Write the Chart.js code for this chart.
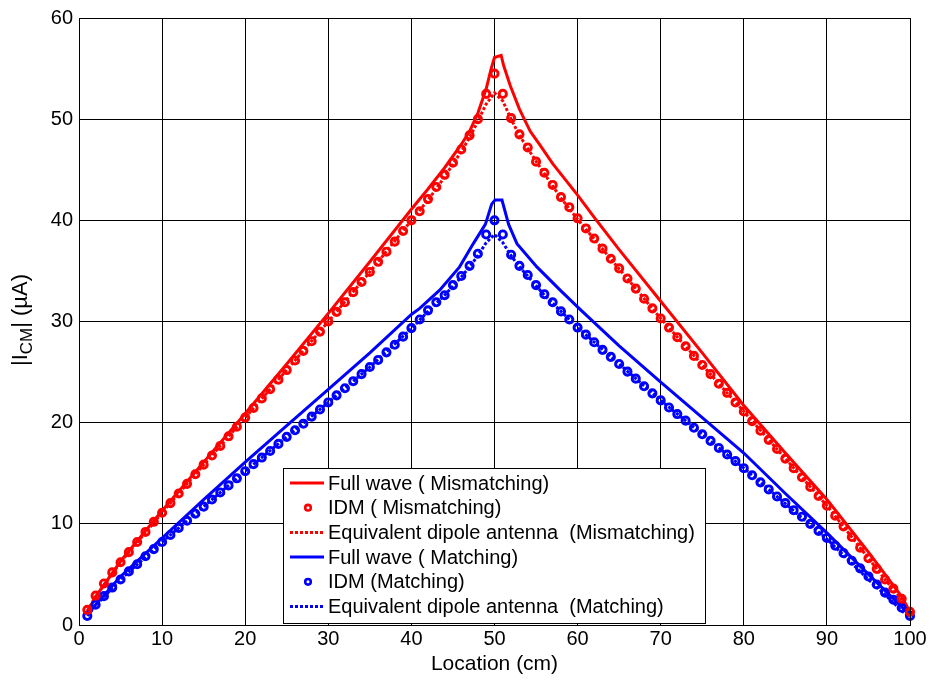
<!DOCTYPE html>
<html>
<head>
<meta charset="utf-8">
<script src="https://cdn.jsdelivr.net/npm/chart.js@4.4.1/dist/chart.umd.min.js"></script>
<style>
  body { margin: 0; background: #fff; }
  canvas { display: block; }
</style>
</head>
<body>
<canvas id="chart" width="932" height="681"></canvas>
<script>
// IDM samples, one every cm
let idmLoc = Array.from({ length: 100 }, (_, i) => i + 1);

let idmMismatch = [
  1.5, 2.9, 4.1, 5.2, 6.2, 7.2, 8.2, 9.2, 10.2, 11.1,
  12.05, 13.0, 13.95, 14.9, 15.85, 16.75, 17.7, 18.65, 19.6, 20.5,
  21.45, 22.4, 23.3, 24.25, 25.2, 26.15, 27.1, 28.05, 29.0, 30.0,
  30.95, 31.9, 32.9, 33.9, 34.9, 35.9, 36.9, 37.9, 38.95, 40.0,
  40.9, 42.1, 43.3, 44.5, 45.7, 47.0, 48.4, 50.0, 52.5, 54.5,
  52.5, 50.1, 48.5, 47.2, 45.8, 44.7, 43.5, 42.3, 41.3, 40.2,
  39.2, 38.2, 37.2, 36.2, 35.25, 34.25, 33.25, 32.25, 31.3, 30.3,
  29.4, 28.45, 27.55, 26.6, 25.7, 24.8, 23.85, 22.95, 22.0, 21.1,
  20.15, 19.2, 18.3, 17.4, 16.45, 15.5, 14.6, 13.65, 12.75, 11.8,
  10.8, 9.75, 8.7, 7.65, 6.6, 5.55, 4.5, 3.6, 2.6, 1.3
];

let idmMatch = [
  0.9, 2.0, 2.85, 3.7, 4.5, 5.3, 6.0, 6.8, 7.5, 8.2,
  8.9, 9.6, 10.3, 11.0, 11.7, 12.4, 13.1, 13.8, 14.5, 15.2,
  15.9, 16.55, 17.2, 17.9, 18.6, 19.25, 19.9, 20.6, 21.3, 22.0,
  22.7, 23.4, 24.1, 24.8, 25.5, 26.2, 26.95, 27.7, 28.5, 29.35,
  30.2, 31.1, 31.9, 32.6, 33.6, 34.5, 35.5, 36.7, 38.6, 40.0,
  38.6, 36.6, 35.5, 34.6, 33.6, 32.7, 31.9, 31.0, 30.2, 29.4,
  28.7, 27.95, 27.2, 26.5, 25.8, 25.05, 24.35, 23.6, 22.9, 22.2,
  21.5, 20.85, 20.2, 19.5, 18.85, 18.2, 17.5, 16.85, 16.2, 15.5,
  14.8, 14.1, 13.4, 12.7, 12.05, 11.35, 10.7, 10.0, 9.3, 8.6,
  7.85, 7.1, 6.35, 5.6, 4.8, 4.0, 3.2, 2.5, 1.7, 0.9
];

// full wave
let fwMisLoc = [1, 2, 5, 10, 15, 20, 25, 30, 35, 40, 42, 44, 46, 47, 48, 49, 49.6, 50, 50.8, 51.1, 51.9, 53, 54.3, 55.5, 57, 60, 62, 65, 70, 75, 80, 85, 90, 95, 99, 100];
let fwMismatch = [1.3, 2.8, 6.3, 11.3, 16.1, 20.9, 25.8, 30.8, 35.9, 41.1, 43.1, 45.2, 47.5, 48.8, 50.6, 53.0, 55.0, 56.1, 56.3, 55.3, 53.3, 51.0, 48.8, 47.4, 45.6, 42.5, 40.3, 37.1, 32.0, 26.9, 21.7, 17.0, 12.4, 7.2, 2.8, 1.3];

let fwMatLoc = [1, 2, 5, 10, 15, 20, 25, 30, 35, 40, 41, 43.4, 45.8, 47.45, 48.9, 49.66, 50.06, 50.9, 51.7, 52.7, 55.1, 57.9, 60.3, 65, 70, 75, 80, 85, 90, 95, 99, 100];
let fwMatch = [1.0, 2.0, 4.8, 8.6, 12.4, 16.1, 19.7, 23.3, 26.9, 30.7, 31.3, 33.1, 35.4, 37.7, 39.6, 41.6, 42.0, 42.0, 39.6, 37.7, 35.4, 33.1, 31.2, 27.6, 24.0, 20.5, 17.0, 13.0, 9.1, 5.0, 1.8, 0.9];

// equivalent dipole antenna
let dipLoc = [1, 2, 5, 10, 15, 20, 25, 30, 35, 40, 42, 44, 46, 47, 48, 49, 50, 51, 52, 53, 54, 56, 58, 60, 65, 70, 75, 80, 85, 90, 95, 97, 99, 100];
let dipMismatch = [1.4, 2.8, 6.2, 11.1, 15.85, 20.5, 25.2, 30.0, 34.9, 40.0, 42.0, 44.3, 46.8, 48.2, 49.8, 51.5, 52.6, 51.8, 50.0, 48.4, 47.1, 44.6, 42.2, 40.1, 35.2, 30.3, 25.7, 21.1, 16.45, 11.8, 6.6, 4.5, 2.5, 1.2];
let dipMatch = [0.9, 1.9, 4.5, 8.2, 11.7, 15.2, 18.6, 22.0, 25.5, 29.3, 31.0, 32.6, 34.4, 35.4, 36.5, 37.8, 38.6, 37.8, 36.5, 35.4, 34.5, 32.6, 31.0, 29.4, 25.8, 22.2, 18.85, 15.5, 12.0, 8.5, 4.5, 3.0, 1.4, 0.8];

let xTicks = [0, 10, 20, 30, 40, 50, 60, 70, 80, 90, 100];
let yTicks = [0, 10, 20, 30, 40, 50, 60];

const RED = "#ff0000";
const BLUE = "#0000ff";
const FONT = "'Liberation Sans', Arial, sans-serif";

function pts(xs, ys) {
  return xs.map((x, i) => ({ x: x, y: ys[i] }));
}

function lineSet(label, xs, ys, color, dash, order) {
  return {
    label: label,
    data: pts(xs, ys),
    showLine: true,
    borderColor: color,
    borderWidth: 3,
    borderDash: dash,
    pointRadius: 0,
    fill: false,
    tension: 0,
    order: order
  };
}

function markerSet(label, xs, ys, color) {
  return {
    label: label,
    data: pts(xs, ys),
    showLine: false,
    borderColor: color,
    backgroundColor: "rgba(0,0,0,0)",
    pointStyle: "circle",
    pointRadius: 3.6,
    pointBorderWidth: 2.9,
    clip: false,
    order: 0
  };
}

// box round the plot area
const frame = {
  id: "frame",
  afterDraw(chart) {
    const a = chart.chartArea, ctx = chart.ctx;
    ctx.save();
    ctx.strokeStyle = "#000";
    ctx.lineWidth = 1;
    ctx.strokeRect(a.left + 0.5, a.top + 0.5, a.right - a.left, a.bottom - a.top);
    ctx.restore();
  }
};

// y title with subscript
const yTitle = {
  id: "yTitle",
  afterDraw(chart) {
    const ctx = chart.ctx;
    const big = "22px " + FONT, small = "17px " + FONT;
    const parts = [["|I", big, 0], ["CM", small, 6], ["| (\u00b5A)", big, 0]];
    ctx.save();
    let w = 0;
    parts.forEach(p => { ctx.font = p[1]; w += ctx.measureText(p[0]).width; });
    ctx.translate(21, 320);
    ctx.rotate(-Math.PI / 2);
    ctx.fillStyle = "#000";
    ctx.textBaseline = "middle";
    ctx.textAlign = "left";
    let x = -w / 2;
    parts.forEach(p => {
      ctx.font = p[1];
      ctx.fillText(p[0], x, p[2]);
      x += ctx.measureText(p[0]).width;
    });
    ctx.restore();
  }
};

// legend inside the plot
const boxLegend = {
  id: "boxLegend",
  afterDraw(chart) {
    const ctx = chart.ctx;
    const rows = [0, 1, 2, 3, 4, 5].map(i => chart.data.datasets[i]);
    ctx.save();
    ctx.fillStyle = "#fff";
    ctx.fillRect(283, 468, 422, 155);
    ctx.strokeStyle = "#000";
    ctx.lineWidth = 1;
    ctx.strokeRect(283.5, 468.5, 422, 155);
    ctx.font = "20px " + FONT;
    ctx.textBaseline = "middle";
    rows.forEach((ds, i) => {
      const y = 483 + 24.7 * i;
      if (ds.showLine) {
        ctx.strokeStyle = ds.borderColor;
        ctx.lineWidth = 3;
        ctx.setLineDash(ds.borderDash || []);
        ctx.beginPath();
        ctx.moveTo(290, y);
        ctx.lineTo(324, y);
        ctx.stroke();
        ctx.setLineDash([]);
      } else {
        ctx.strokeStyle = ds.borderColor;
        ctx.lineWidth = 2.6;
        ctx.beginPath();
        ctx.arc(308, y, 2.8, 0, Math.PI * 2);
        ctx.stroke();
      }
      ctx.fillStyle = "#000";
      ctx.fillText(ds.label, 328, y + 1);
    });
    ctx.restore();
  }
};

new Chart(document.getElementById("chart"), {
  type: "scatter",
  data: {
    datasets: [
      lineSet("Full wave ( Mismatching)", fwMisLoc, fwMismatch, RED, [], 2),
      markerSet("IDM ( Mismatching)", idmLoc, idmMismatch, RED),
      lineSet("Equivalent dipole antenna  (Mismatching)", dipLoc, dipMismatch, RED, [3, 2], 1),
      lineSet("Full wave ( Matching)", fwMatLoc, fwMatch, BLUE, [], 2),
      markerSet("IDM (Matching)", idmLoc, idmMatch, BLUE),
      lineSet("Equivalent dipole antenna  (Matching)", dipLoc, dipMatch, BLUE, [3, 2], 1)
    ]
  },
  options: {
    responsive: false,
    animation: false,
    layout: { padding: { top: 12, right: 22, left: 0, bottom: 0 } },
    plugins: {
      legend: { display: false },
      tooltip: { enabled: false }
    },
    scales: {
      x: {
        type: "linear",
        min: 0,
        max: 100,
        afterBuildTicks: s => { s.ticks = xTicks.map(v => ({ value: v })); },
        afterFit: s => { s.height = 56; },
        ticks: { color: "#000", font: { family: FONT, size: 20 }, padding: 2, maxRotation: 0 },
        grid: { color: "#000", lineWidth: 1, drawTicks: false },
        border: { color: "#000" },
        title: {
          display: true,
          text: "Location (cm)",
          color: "#000",
          font: { family: FONT, size: 21 },
          padding: { top: 0, bottom: 4 }
        }
      },
      y: {
        min: 0,
        max: 60,
        afterBuildTicks: s => { s.ticks = yTicks.map(v => ({ value: v })); },
        afterFit: s => { s.width = 79; },
        ticks: { color: "#000", font: { family: FONT, size: 20 }, padding: 6 },
        grid: { color: "#000", lineWidth: 1, drawTicks: false },
        border: { color: "#000" }
      }
    }
  },
  plugins: [frame, yTitle, boxLegend]
});
</script>
</body>
</html>
